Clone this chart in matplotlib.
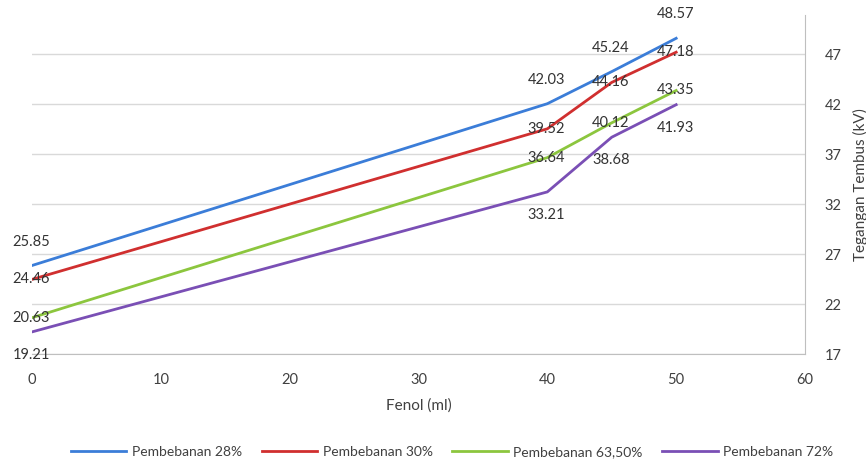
import matplotlib
matplotlib.use("Agg")
import matplotlib.pyplot as plt

plt.rcParams['font.family'] = ['Lato', 'DejaVu Sans']

fenol = [0, 40, 45, 50]
p28 = [25.85, 42.03, 45.24, 48.57]
p30 = [24.46, 39.52, 44.16, 47.18]
p635 = [20.63, 36.64, 40.12, 43.35]
p72 = [19.21, 33.21, 38.68, 41.93]
series_names = ['Pembebanan 28%', 'Pembebanan 30%', 'Pembebanan 63,50%', 'Pembebanan 72%']
x_ticks = [0, 10, 20, 30, 40, 50, 60]
y_ticks = [17, 22, 27, 32, 37, 42, 47]

colors = ['#3B7DD8', '#D02F2F', '#8CC63E', '#7A4FB5']
label_offsets = [24, 0, 0, -23]
text_color = '#404040'

fig = plt.figure(figsize=(8.66, 4.65), dpi=100)
ax = fig.add_axes([32/866, 1-354/465, (805-32)/866, (354-15)/465])

for vals, name, c, off in zip([p28, p30, p635, p72], series_names, colors, label_offsets):
    ax.plot(fenol, vals, color=c, lw=2, label=name)
    for xv, yv in zip(fenol, vals):
        ax.annotate(f"{yv:.2f}", (xv, yv), xytext=(-1, off), textcoords='offset pixels',
                    ha='center', va='center', fontsize=10.5, color='#333333')

ax.set_xlim(0, 60)
ax.set_ylim(17, 50.9)
ax.set_xticks(x_ticks)
ax.set_yticks(y_ticks)
ax.yaxis.tick_right()
ax.yaxis.set_label_position('right')
ax.tick_params(axis='both', length=0, labelsize=10.5, colors=text_color)
ax.tick_params(axis='x', pad=14)
ax.tick_params(axis='y', pad=14)
ax.grid(axis='y', color='#D9D9D9', lw=1)
ax.set_axisbelow(True)
for s in ['top', 'left']:
    ax.spines[s].set_visible(False)
for s in ['bottom', 'right']:
    ax.spines[s].set_color('#BFBFBF')
ax.set_xlabel('Fenol (ml)', fontsize=11, color=text_color, labelpad=8)
ax.set_ylabel('Tegangan Tembus (kV)', fontsize=11, color=text_color, labelpad=8)

fig.legend(loc='lower center', bbox_to_anchor=(0.522, -0.012), ncol=4, frameon=False,
           fontsize=10, handlelength=4.0, columnspacing=1.4, handletextpad=0.4,
           labelcolor=text_color)

fig.savefig('out.png', dpi=100)
